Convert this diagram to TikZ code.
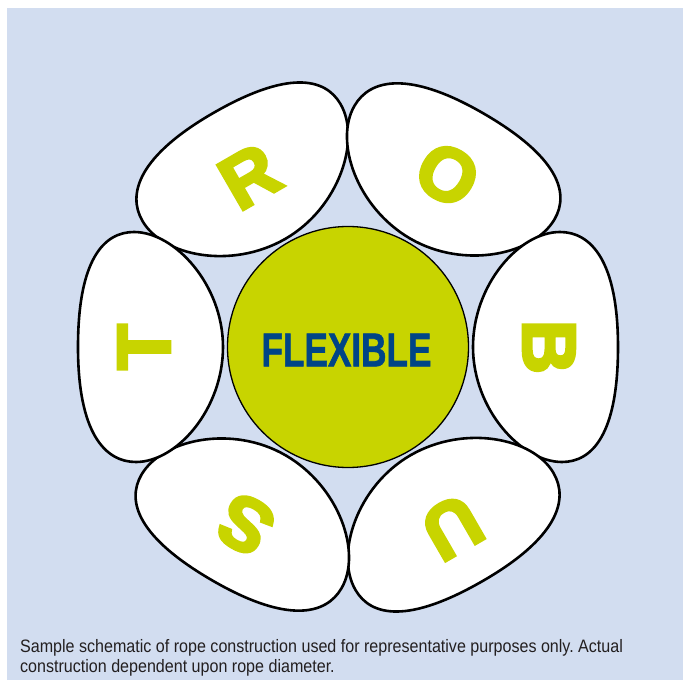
\documentclass[tikz,border=0pt]{standalone}
\usepackage{fontspec}
\setmainfont{Liberation Sans}
\newfontfamily\heavyfont{Liberation Sans}[BoldFeatures={FakeBold=4}]
\newfontfamily\coreface{Liberation Sans}[BoldFeatures={FakeBold=1.5}]
\definecolor{ropebg}{RGB}{210,221,240}
\definecolor{lime}{RGB}{200,212,0}
\definecolor{ropeblue}{RGB}{0,69,134}
\definecolor{capgray}{RGB}{35,31,32}
\frenchspacing

\begin{document}
\begin{tikzpicture}[x=1pt,y=1pt,
                    strand/.style={draw=black,line width=2.6pt,fill=white},
                    tag/.style={text=lime,inner sep=0pt,font=\heavyfont\bfseries\fontsize{75}{75}\selectfont},
                    note/.style={anchor=base west,inner sep=0pt,text=capgray,font=\fontsize{18}{20}\selectfont}]
                    \useasboundingbox (-348,-333) rectangle (335,347);
                    \fill[ropebg] (-341,-333) rectangle (335,339);

                    \foreach \ang/\lab/\lrad in {120/R/197,60/O/199,0/B/201,-60/U/208,-120/S/205,180/T/204}{
                        \begin{scope}[shift={(\ang:197)},rotate=\ang]
                            \draw[strand] (-72,0) .. controls (-72,62) and (-26,115) .. (15,115)
                                .. controls (46,115) and (73,86) .. (73,0)
                                .. controls (73,-86) and (48,-115) .. (17,-115)
                                .. controls (-24,-115) and (-72,-62) .. cycle;
                        \end{scope}
                        \node[tag,rotate=\ang-90] (tag-\lab) at (\ang:\lrad) {\lab};
                    }

                    \node[circle,draw=black,line width=1.3pt,fill=lime,minimum size=241pt,inner sep=0pt] (core) at (0,0) {};
                    \node[text=ropeblue,inner sep=0pt,font=\coreface\bfseries\fontsize{47.5}{47.5}\selectfont] (flex) at (-1.5,-3) {\scalebox{0.74}[1]{FLEXIBLE}};

                    \node[note] (note1) at (-328,-305.5) {\scalebox{0.893}[1]{Sample schematic of rope construction used for representative purposes only. Actual}};
                    \node[note] (note2) at ([yshift=-20pt]note1.base west) {\scalebox{0.893}[1]{construction dependent upon rope diameter.}};
                \end{tikzpicture}
\end{document}
